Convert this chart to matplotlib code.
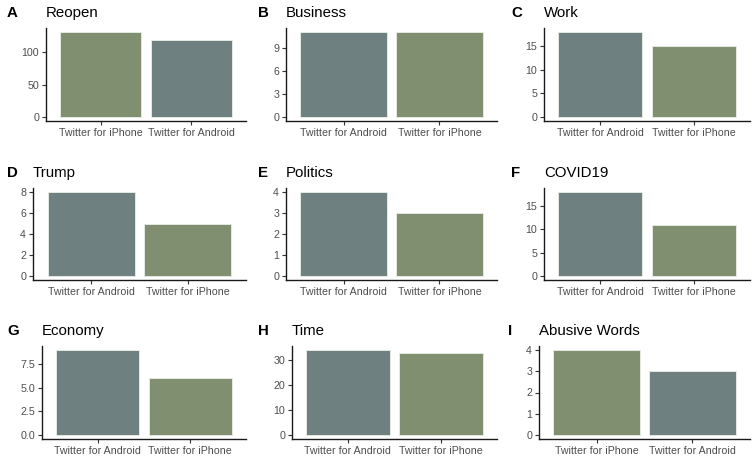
import matplotlib
matplotlib.use("Agg")
import matplotlib.pyplot as plt

plt.rcParams['font.family'] = ['Liberation Sans', 'DejaVu Sans']

# panel data (order of bars as in the picture)
letters = ['A', 'B', 'C', 'D', 'E', 'F', 'G', 'H', 'I']
titles = ['Reopen', 'Business', 'Work', 'Trump', 'Politics', 'COVID19',
          'Economy', 'Time', 'Abusive Words']
sources = [
    ['Twitter for iPhone', 'Twitter for Android'],
    ['Twitter for Android', 'Twitter for iPhone'],
    ['Twitter for Android', 'Twitter for iPhone'],
    ['Twitter for Android', 'Twitter for iPhone'],
    ['Twitter for Android', 'Twitter for iPhone'],
    ['Twitter for Android', 'Twitter for iPhone'],
    ['Twitter for Android', 'Twitter for iPhone'],
    ['Twitter for Android', 'Twitter for iPhone'],
    ['Twitter for iPhone', 'Twitter for Android'],
]
counts = [
    [131, 119],
    [11, 11],
    [18, 15],
    [8, 5],
    [4, 3],
    [18, 11],
    [9, 6],
    [34, 33],
    [4, 3],
]
yticks = [
    [0, 50, 100],
    [0, 3, 6, 9],
    [0, 5, 10, 15],
    [0, 2, 4, 6, 8],
    [0, 1, 2, 3, 4],
    [0, 5, 10, 15],
    [0.0, 2.5, 5.0, 7.5],
    [0, 10, 20, 30],
    [0, 1, 2, 3, 4],
]
ytick_fmt = ['{:.0f}'] * 6 + ['{:.1f}'] + ['{:.0f}'] * 2

colors = {'Twitter for iPhone': '#7f8f70', 'Twitter for Android': '#6e807f'}

W, H = 756, 461
fig = plt.figure(figsize=(W / 100, H / 100), dpi=100)

# axes boxes in pixels: left, top, right, bottom
boxes = [
    (46, 28, 246, 121), (286, 28, 497, 121), (544, 28, 750, 121),
    (33, 188, 246, 280), (286, 188, 497, 280), (544, 188, 750, 280),
    (42, 346, 246, 439), (292, 346, 497, 439), (539, 346, 750, 439),
]
letter_x = [7, 258, 511, 7, 258, 511, 7, 258, 508]

for i in range(9):
    l, t, r, b = boxes[i]
    ax = fig.add_axes([l / W, 1 - b / H, (r - l) / W, (b - t) / H])
    x = range(len(sources[i]))
    ax.bar(x, counts[i], width=0.9,
           color=[colors[s] for s in sources[i]],
           edgecolor='#e4e9e2', linewidth=0.7)
    top = max(counts[i])
    ax.set_ylim(-0.05 * top, 1.05 * top)
    ax.set_xlim(-0.6, 1.6)
    ax.set_xticks(list(x))
    ax.set_xticklabels(sources[i])
    ax.set_yticks(yticks[i])
    ax.set_yticklabels([ytick_fmt[i].format(v) for v in yticks[i]])
    ax.tick_params(labelsize=7.7, labelcolor='#4d4d4d', color='#333333',
                   length=3, width=0.8, pad=2)
    for side in ['top', 'right']:
        ax.spines[side].set_visible(False)
    for side in ['left', 'bottom']:
        ax.spines[side].set_linewidth(1.0)
        ax.spines[side].set_color('#1a1a1a')

    base = 1 - (t - 11) / H
    fig.text(l / W, base, titles[i], fontsize=10.8, va='baseline', ha='left')
    fig.text(letter_x[i] / W, base, letters[i], fontsize=10.8,
             fontweight='bold', va='baseline', ha='left')

fig.savefig('out.png', dpi=100)
